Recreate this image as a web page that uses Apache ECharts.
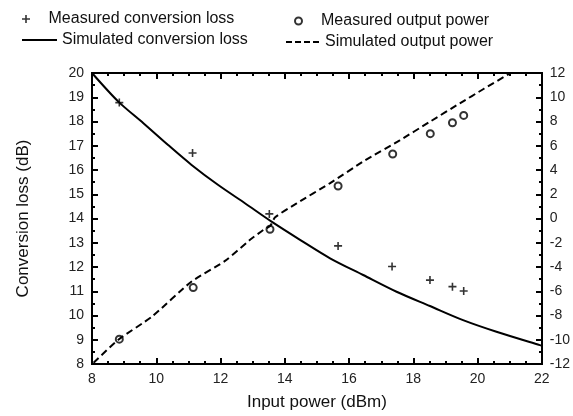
<!DOCTYPE html>
<html>
<head>
<meta charset="utf-8">
<script src="https://cdn.jsdelivr.net/npm/echarts@6/dist/echarts.min.js"></script>
<style>
  html, body { margin: 0; padding: 0; background: #fff; }
  #chart { width: 573px; height: 416px; }
</style>
</head>
<body>
<div id="chart"></div>
<script>
// measured points
const measLossX = [8.85, 11.13, 13.52, 15.66, 17.34, 18.52, 19.22, 19.57];
const measLoss = [18.78, 16.7, 14.19, 12.87, 12.02, 11.46, 11.19, 11.01];
const measPowX = [8.85, 11.15, 13.54, 15.66, 17.36, 18.53, 19.22, 19.57];
const measPow = [-9.95, -5.7, -0.89, 2.68, 5.32, 7.0, 7.9, 8.5];

// simulated curves
const simLossX = [8, 8.82, 9.6, 10.37, 11.1, 11.93, 12.76, 13.59, 14.5, 15.41, 16.44, 17.48, 18.52, 19.55, 20.59, 21.94, 22];
const simLoss = [20, 18.82, 17.93, 17.03, 16.21, 15.38, 14.63, 13.87, 13.1, 12.36, 11.67, 10.98, 10.39, 9.81, 9.33, 8.78, 8.76];
const simPowX = [8.05, 8.82, 9.86, 11.1, 12.14, 12.9, 13.33, 13.55, 13.7, 14.37, 15.4, 16.5, 17.58, 18.5, 19.45, 20.2, 21.03];
const simPow = [-11.9, -10.0, -8.1, -5.2, -3.5, -1.8, -0.95, -0.6, 0.1, 1.25, 2.9, 4.8, 6.45, 7.95, 9.5, 10.7, 12];

const xTicks = [8, 22, 2];
const lossTicks = [8, 20, 1];
const powTicks = [-12, 12, 2];

const zip = (xs, ys) => xs.map((x, i) => [x, ys[i]]);
const plusPath = 'path://M4,0H6V4H10V6H6V10H4V6H0V4H4Z';
const solidIcon = 'path://M0,0H35V2H0Z';
const dashIcon = 'path://M0,0H6V2H0Z M9,0H15V2H9Z M18,0H24V2H18Z M27,0H33V2H27Z';

const chart = echarts.init(document.getElementById('chart'));
const gridBox = { left: 92, right: 31, top: 73, bottom: 52 };

// axes carrying labels / names (grid 0)
function labelAxis() {
  return {
    type: 'value', gridIndex: 0,
    axisLine: { show: true, onZero: false, lineStyle: { color: '#000', width: 2 } },
    axisTick: { show: false },
    minorTick: { show: false },
    splitLine: { show: false },
    axisLabel: { color: '#222', fontSize: 14 }
  };
}

// frame + ticks only (grid 1, same box)
function tickAxis(split) {
  return {
    type: 'value', gridIndex: 1,
    axisLine: { show: true, onZero: false, lineStyle: { color: '#000', width: 2 } },
    axisTick: { show: true, inside: true, length: 6, lineStyle: { color: '#000', width: 2 } },
    minorTick: { show: true, splitNumber: split, length: 3, lineStyle: { color: '#000', width: 2 } },
    splitLine: { show: false },
    axisLabel: { show: false }
  };
}

const legendText = { color: '#111', fontSize: 16 };
const nameStyle = { color: '#111', fontSize: 17 };

chart.setOption({
  animation: false,
  grid: [gridBox, gridBox],
  legend: [
    { data: ['Measured conversion loss'], left: 22, top: 11, padding: 0, itemWidth: 35, itemHeight: 8, textStyle: legendText },
    { data: [{ name: 'Simulated conversion loss', icon: solidIcon }], left: 22, top: 32, padding: 0, itemWidth: 35, itemHeight: 2, textStyle: legendText },
    { data: ['Measured output power'], left: 294, top: 13, padding: 0, itemWidth: 35, itemHeight: 7, textStyle: legendText },
    { data: [{ name: 'Simulated output power', icon: dashIcon }], left: 286, top: 34, padding: 0, itemWidth: 35, itemHeight: 2, textStyle: legendText }
  ],
  xAxis: [
    Object.assign(labelAxis(), {
      position: 'bottom', min: xTicks[0], max: xTicks[1], interval: xTicks[2],
      name: 'Input power (dBm)', nameLocation: 'middle', nameGap: 30, nameTextStyle: nameStyle
    }),
    Object.assign(tickAxis(4), { position: 'bottom', min: xTicks[0], max: xTicks[1], interval: xTicks[2] }),
    Object.assign(tickAxis(4), { position: 'top', min: xTicks[0], max: xTicks[1], interval: xTicks[2] })
  ],
  yAxis: [
    Object.assign(labelAxis(), {
      position: 'left', min: lossTicks[0], max: lossTicks[1], interval: lossTicks[2],
      name: 'Conversion loss (dB)', nameLocation: 'middle', nameGap: 60, nameTextStyle: nameStyle
    }),
    Object.assign(labelAxis(), { position: 'right', min: powTicks[0], max: powTicks[1], interval: powTicks[2] }),
    Object.assign(tickAxis(2), { position: 'left', min: lossTicks[0], max: lossTicks[1], interval: lossTicks[2] }),
    Object.assign(tickAxis(2), { position: 'right', min: powTicks[0], max: powTicks[1], interval: powTicks[2] })
  ],
  series: [
    {
      name: 'Measured conversion loss', type: 'scatter', xAxisIndex: 0, yAxisIndex: 0,
      symbol: plusPath, symbolSize: 8, itemStyle: { color: '#000' },
      data: zip(measLossX, measLoss)
    },
    {
      name: 'Simulated conversion loss', type: 'line', xAxisIndex: 0, yAxisIndex: 0,
      showSymbol: false, smooth: 0.3,
      lineStyle: { color: '#000', width: 2 }, itemStyle: { color: '#000' },
      data: zip(simLossX, simLoss)
    },
    {
      name: 'Measured output power', type: 'scatter', xAxisIndex: 0, yAxisIndex: 1,
      symbol: 'circle', symbolSize: 7,
      itemStyle: { color: '#fff', borderColor: '#000', borderWidth: 2 },
      data: zip(measPowX, measPow)
    },
    {
      name: 'Simulated output power', type: 'line', xAxisIndex: 0, yAxisIndex: 1,
      showSymbol: false, smooth: 0.2,
      lineStyle: { color: '#000', width: 2, type: [7, 4] }, itemStyle: { color: '#000' },
      data: zip(simPowX, simPow)
    }
  ]
});
</script>
</body>
</html>
